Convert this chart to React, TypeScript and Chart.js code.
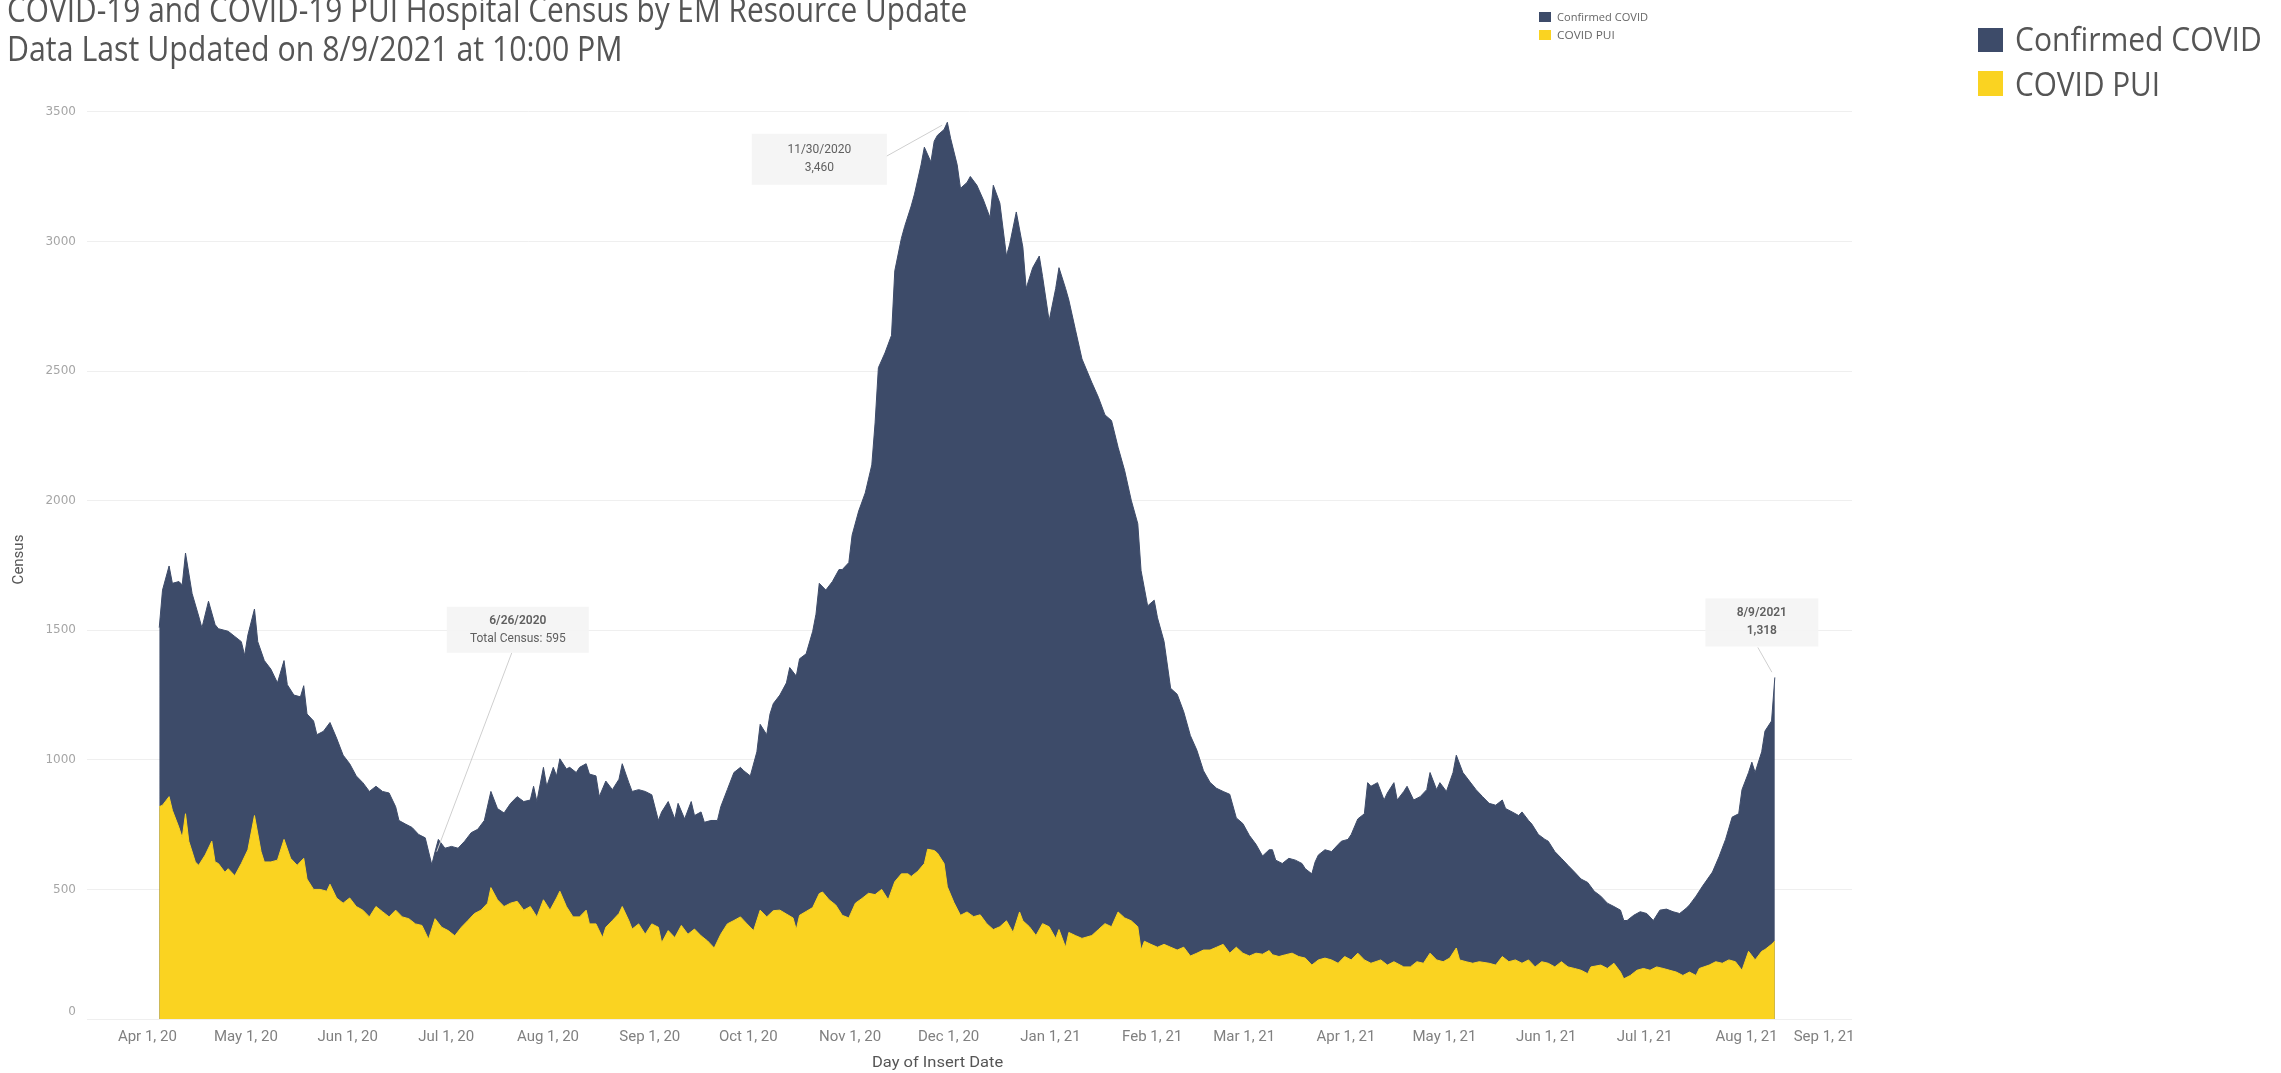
import React, { useEffect, useLayoutEffect, useRef, useState } from 'react';
import { Chart, registerables } from 'chart.js';

Chart.register(...registerables);

// ---- Data (day offsets counted from EPOCH) ----
const EPOCH = '2020-04-01';

const seriesNames = ['Confirmed COVID', 'COVID PUI'];

// Total census (Confirmed COVID + COVID PUI) = top edge of the navy band
const totalDays = [3, 4, 6, 7, 9, 10, 11, 13, 15, 16, 18, 20, 21, 24, 26, 28, 29, 30, 32, 33, 35, 37, 39, 41, 42, 44, 46, 47, 48, 50, 51, 53, 55, 57, 59, 61, 63, 65, 67, 69, 71, 73, 75, 76, 78, 80, 82, 84, 86, 87, 88, 90, 92, 94, 96, 98, 100, 102, 104, 106, 108, 110, 112, 114, 116, 117, 118, 120, 121, 123, 124, 125, 127, 128, 130, 131, 133, 134, 136, 137, 139, 141, 143, 144, 146, 147, 149, 151, 153, 155, 156, 158, 160, 161, 163, 165, 166, 168, 169, 171, 173, 174, 176, 178, 180, 181, 183, 185, 186, 188, 189, 190, 192, 194, 195, 197, 198, 200, 202, 203, 204, 206, 208, 210, 211, 213, 214, 216, 218, 220, 221, 222, 224, 226, 227, 229, 230, 232, 233, 235, 236, 238, 239, 240, 242, 243, 244, 246, 247, 249, 250, 252, 254, 256, 257, 259, 261, 262, 264, 266, 267, 269, 271, 272, 274, 276, 277, 279, 280, 282, 284, 287, 289, 291, 293, 295, 297, 299, 301, 302, 304, 306, 307, 309, 311, 313, 315, 317, 319, 321, 323, 325, 327, 329, 331, 333, 335, 337, 339, 341, 342, 343, 345, 347, 349, 351, 352, 354, 355, 356, 358, 360, 362, 363, 365, 366, 368, 370, 371, 372, 374, 376, 377, 379, 380, 382, 383, 385, 387, 389, 390, 392, 393, 395, 397, 398, 400, 402, 404, 406, 408, 410, 412, 413, 415, 417, 418, 420, 421, 423, 425, 426, 428, 430, 432, 434, 436, 438, 440, 442, 444, 446, 448, 449, 450, 452, 454, 456, 458, 460, 462, 464, 466, 468, 469, 471, 473, 476, 478, 480, 482, 484, 485, 487, 488, 489, 491, 492, 494, 495];
const totalCensus = [1510, 1655, 1748, 1681, 1688, 1675, 1798, 1642, 1555, 1509, 1612, 1522, 1506, 1496, 1476, 1456, 1403, 1482, 1582, 1456, 1383, 1350, 1297, 1383, 1290, 1250, 1243, 1286, 1177, 1150, 1097, 1110, 1144, 1084, 1018, 985, 938, 912, 878, 898, 878, 872, 819, 766, 752, 739, 712, 699, 595, 646, 693, 659, 666, 659, 686, 719, 732, 766, 878, 812, 795, 832, 858, 839, 845, 898, 839, 971, 898, 971, 938, 1004, 965, 971, 951, 971, 985, 945, 938, 858, 918, 885, 925, 985, 912, 878, 885, 878, 865, 766, 799, 839, 772, 832, 772, 839, 785, 799, 759, 766, 766, 819, 885, 951, 971, 958, 938, 1031, 1137, 1097, 1177, 1217, 1250, 1297, 1356, 1323, 1390, 1409, 1496, 1562, 1681, 1655, 1688, 1734, 1734, 1761, 1867, 1960, 2030, 2138, 2300, 2513, 2570, 2638, 2887, 3012, 3058, 3137, 3183, 3296, 3364, 3307, 3387, 3410, 3432, 3460, 3398, 3296, 3205, 3228, 3251, 3217, 3160, 3092, 3217, 3148, 2944, 2990, 3114, 2978, 2819, 2899, 2944, 2865, 2694, 2819, 2899, 2819, 2774, 2660, 2547, 2456, 2399, 2331, 2309, 2206, 2116, 2002, 1911, 1730, 1594, 1616, 1548, 1457, 1276, 1253, 1185, 1094, 1037, 958, 913, 890, 878, 867, 776, 754, 708, 674, 629, 653, 653, 613, 600, 620, 613, 600, 580, 560, 606, 633, 653, 646, 673, 686, 693, 712, 772, 792, 912, 898, 912, 845, 872, 912, 845, 878, 898, 845, 858, 885, 951, 885, 912, 878, 951, 1018, 951, 918, 885, 858, 832, 825, 845, 812, 799, 785, 799, 766, 752, 712, 693, 686, 646, 620, 593, 567, 540, 527, 493, 474, 447, 434, 420, 380, 380, 400, 414, 407, 380, 420, 424, 414, 407, 427, 440, 474, 513, 567, 626, 693, 779, 792, 885, 951, 991, 951, 1031, 1111, 1150, 1318];

// COVID PUI = top edge of the yellow band
const puiDays = [3, 4, 6, 7, 9, 10, 11, 12, 14, 15, 17, 19, 20, 21, 23, 24, 26, 28, 30, 32, 34, 35, 37, 39, 41, 43, 45, 47, 48, 50, 52, 54, 55, 57, 59, 61, 63, 65, 67, 69, 71, 73, 75, 77, 79, 81, 83, 85, 87, 89, 91, 93, 95, 97, 99, 101, 103, 104, 106, 108, 110, 112, 114, 116, 118, 120, 122, 124, 125, 127, 129, 131, 133, 134, 136, 138, 139, 141, 143, 144, 146, 147, 149, 151, 153, 155, 156, 158, 160, 162, 164, 166, 168, 170, 172, 174, 176, 178, 180, 182, 184, 186, 188, 190, 192, 194, 196, 197, 198, 200, 202, 204, 205, 207, 209, 211, 213, 215, 217, 219, 221, 223, 225, 227, 229, 231, 232, 234, 236, 237, 239, 240, 242, 243, 245, 247, 249, 251, 253, 255, 257, 259, 261, 263, 265, 266, 268, 270, 272, 274, 276, 277, 279, 280, 282, 284, 287, 289, 291, 293, 295, 297, 299, 301, 302, 303, 305, 307, 309, 311, 313, 315, 317, 319, 321, 323, 325, 327, 329, 331, 333, 335, 337, 339, 341, 342, 344, 346, 348, 350, 352, 354, 356, 358, 360, 362, 364, 366, 368, 370, 372, 375, 377, 379, 382, 384, 386, 388, 390, 392, 394, 396, 398, 399, 401, 403, 405, 408, 410, 412, 414, 416, 418, 420, 422, 424, 426, 428, 430, 432, 434, 436, 438, 439, 442, 444, 446, 448, 449, 451, 453, 455, 457, 459, 461, 463, 465, 467, 469, 471, 472, 475, 477, 479, 481, 483, 485, 487, 489, 491, 492, 494, 495];
const covidPui = [819, 825, 858, 805, 739, 699, 792, 686, 606, 593, 633, 686, 606, 600, 566, 580, 553, 600, 653, 785, 646, 606, 606, 613, 693, 620, 593, 620, 540, 500, 500, 493, 520, 467, 447, 467, 434, 420, 394, 434, 414, 394, 420, 394, 387, 367, 361, 308, 387, 354, 341, 321, 354, 380, 407, 420, 447, 507, 460, 434, 447, 454, 420, 434, 394, 460, 420, 467, 493, 434, 394, 394, 420, 367, 367, 314, 354, 380, 407, 434, 380, 347, 367, 327, 367, 354, 294, 341, 314, 361, 327, 347, 321, 301, 274, 327, 367, 380, 394, 367, 341, 420, 394, 418, 420, 405, 390, 345, 400, 415, 430, 484, 490, 460, 440, 400, 390, 447, 465, 485, 480, 500, 460, 530, 560, 560, 550, 570, 600, 655, 650, 640, 600, 510, 450, 400, 413, 395, 402, 368, 345, 356, 379, 334, 413, 379, 356, 322, 368, 356, 311, 345, 277, 334, 322, 311, 322, 345, 368, 356, 413, 390, 379, 356, 266, 300, 288, 277, 288, 277, 266, 277, 243, 254, 266, 266, 277, 288, 254, 277, 254, 243, 254, 250, 264, 248, 241, 248, 254, 241, 235, 208, 228, 235, 228, 215, 241, 228, 254, 228, 215, 228, 208, 221, 201, 201, 221, 215, 254, 228, 221, 235, 274, 228, 221, 215, 221, 215, 208, 241, 221, 228, 215, 228, 201, 221, 215, 201, 221, 201, 195, 188, 175, 201, 208, 195, 215, 181, 155, 168, 188, 195, 188, 201, 195, 188, 181, 168, 181, 168, 195, 208, 221, 215, 228, 221, 188, 261, 228, 261, 268, 288, 301];

const xTickDates = ['2020-04-01', '2020-05-01', '2020-06-01', '2020-07-01', '2020-08-01', '2020-09-01', '2020-10-01', '2020-11-01', '2020-12-01', '2021-01-01', '2021-02-01', '2021-03-01', '2021-04-01', '2021-05-01', '2021-06-01', '2021-07-01', '2021-08-01', '2021-09-01'];
const xTickLabels = ['Apr 1, 20', 'May 1, 20', 'Jun 1, 20', 'Jul 1, 20', 'Aug 1, 20', 'Sep 1, 20', 'Oct 1, 20', 'Nov 1, 20', 'Dec 1, 20', 'Jan 1, 21', 'Feb 1, 21', 'Mar 1, 21', 'Apr 1, 21', 'May 1, 21', 'Jun 1, 21', 'Jul 1, 21', 'Aug 1, 21', 'Sep 1, 21'];
const yTickValues = [0, 500, 1000, 1500, 2000, 2500, 3000, 3500];

const annotationDates = ['2020-11-30', '2020-06-26', '2021-08-09'];
const annotationLines = [
  ['11/30/2020', '3,460'],
  ['6/26/2020', 'Total Census: 595'],
  ['8/9/2021', '1,318'],
];

// ---- Styles / layout ----
const NAVY = '#3d4b69';
const YELLOW = '#fad321';
const W = 2281;
const H = 1073;

// box placement relative to the annotated point (px): center offset, size, leader start (rel. to box center), gap at point
const annotationLayout = [
  { dx: -128, dy: 37, w: 135, h: 51, lx: 67, ly: -3, gap: 6, bold: [false, false] },
  { dx: 86, dy: -235, w: 142, h: 46, lx: -6, ly: 23, gap: 14, bold: [true, false] },
  { dx: -13, dy: -55, w: 113, h: 48, lx: -4, ly: 25, gap: 6, bold: [true, true] },
];

const dayOf = (iso: string) => (Date.parse(iso) - Date.parse(EPOCH)) / 86400000;

function FitText(props: {
  text: string; left: number; baseline: number; fontSize: number; width: number;
  color: string; family: string; ascentRatio: number; weight?: number;
}) {
  const { text, left, baseline, fontSize, width, color, family, ascentRatio, weight } = props;
  const ref = useRef<HTMLSpanElement>(null);
  const [scale, setScale] = useState(1);
  useLayoutEffect(() => {
    if (ref.current) {
      const w = ref.current.offsetWidth;
      if (w > 0) setScale(width / w);
    }
  }, [text, fontSize, width, family]);
  return (
    <span
      ref={ref}
      style={{
        position: 'absolute',
        left,
        top: baseline - ascentRatio * fontSize,
        fontSize,
        lineHeight: 1,
        fontFamily: family,
        fontWeight: weight ?? 400,
        color,
        whiteSpace: 'nowrap',
        transform: `scaleX(${scale})`,
        transformOrigin: 'left top',
      }}
    >
      {text}
    </span>
  );
}

const OPEN = "'Open Sans', 'Noto Sans', sans-serif";
const OPEN_ASC = 0.888;
const ROBOTO = "Roboto, 'Noto Sans', sans-serif";
const ROBOTO_ASC = 0.842;

export default function App() {
  const canvasRef = useRef<HTMLCanvasElement>(null);

  useEffect(() => {
    document.body.style.margin = '0';
    document.body.style.overflow = 'hidden';
    const canvas = canvasRef.current;
    if (!canvas) return;

    const annPlugin = {
      id: 'calloutBoxes',
      afterDatasetsDraw(chart: any) {
        const ctx = chart.ctx;
        const xs = chart.scales.x;
        const ys = chart.scales.y;
        annotationDates.forEach((d, i) => {
          const day = dayOf(d);
          const idx = totalDays.indexOf(day);
          if (idx < 0) return;
          const px = xs.getPixelForValue(day);
          const py = ys.getPixelForValue(totalCensus[idx]);
          const L = annotationLayout[i];
          const cx = px + L.dx;
          const cy = py + L.dy;
          ctx.save();
          const sx = cx + L.lx;
          const sy = cy + L.ly;
          const vx = px - sx;
          const vy = py - sy;
          const len = Math.hypot(vx, vy);
          const ex = px - (vx / len) * L.gap;
          const ey = py - (vy / len) * L.gap;
          ctx.strokeStyle = '#cfcfcf';
          ctx.lineWidth = 1;
          ctx.beginPath();
          ctx.moveTo(sx, sy);
          ctx.lineTo(ex, ey);
          ctx.stroke();
          ctx.fillStyle = 'rgba(244,244,244,0.92)';
          ctx.fillRect(cx - L.w / 2, cy - L.h / 2, L.w, L.h);
          ctx.textAlign = 'center';
          ctx.textBaseline = 'middle';
          const lines = annotationLines[i];
          lines.forEach((t, k) => {
            ctx.font = `${L.bold[k] ? '600 ' : ''}12px Roboto, 'Noto Sans', sans-serif`;
            ctx.fillStyle = '#5f5f5f';
            ctx.fillText(t, cx, cy + (k - (lines.length - 1) / 2) * 18);
          });
          ctx.restore();
        });
      },
    };

    const chart = new Chart(canvas, {
      type: 'line',
      data: {
        datasets: [
          {
            label: seriesNames[1],
            data: puiDays.map((d, i) => ({ x: d, y: covidPui[i] })),
            backgroundColor: YELLOW,
            borderColor: YELLOW,
            borderWidth: 1,
            fill: 'origin',
            pointRadius: 0,
            tension: 0,
          },
          {
            label: seriesNames[0],
            data: totalDays.map((d, i) => ({ x: d, y: totalCensus[i] })),
            backgroundColor: NAVY,
            borderColor: NAVY,
            borderWidth: 1,
            fill: 'origin',
            pointRadius: 0,
            tension: 0,
          },
        ],
      },
      options: {
        responsive: false,
        animation: false,
        devicePixelRatio: 1,
        layout: { padding: { top: 100, right: 429, bottom: 0, left: 0 } },
        plugins: {
          legend: { display: false },
          tooltip: { enabled: false },
        },
        scales: {
          x: {
            type: 'linear',
            min: -19,
            max: 518.5,
            grid: { display: false, drawTicks: false },
            border: { display: false },
            afterBuildTicks: (scale: any) => {
              scale.ticks = xTickDates.map((d) => ({ value: dayOf(d) }));
            },
            afterFit: (scale: any) => {
              scale.height = 54;
            },
            ticks: {
              autoSkip: false,
              maxRotation: 0,
              minRotation: 0,
              padding: 9,
              labelOffset: -2,
              color: '#808080',
              font: { family: 'Roboto', size: 15 },
              callback: (_v: any, index: number) => {
                const label = xTickLabels[index];
                return index === xTickLabels.length - 1 ? label + ' '.repeat(13) : label;
              },
            },
          },
          y: {
            type: 'linear',
            min: 0,
            max: 3546,
            grid: { color: '#efefef', lineWidth: 1, drawTicks: false },
            border: { display: false },
            afterBuildTicks: (scale: any) => {
              scale.ticks = yTickValues.map((v) => ({ value: v }));
            },
            afterFit: (scale: any) => {
              scale.width = 87;
            },
            ticks: {
              padding: 11,
              color: '#a6a6a6',
              font: { family: 'DejaVu Sans', size: 12 },
              // the bottom label sits just above the baseline, as in the original
              callback: (v: any) => (v === 0 ? ['0', ''] : String(v)),
            },
            title: {
              display: true,
              text: 'Census',
              color: '#555555',
              font: { family: 'Roboto', size: 15 },
              padding: { top: 10, bottom: 0 },
            },
          },
        },
      },
      plugins: [annPlugin],
    } as any);

    return () => chart.destroy();
  }, []);

  const square = (left: number, top: number, size: number, h: number, color: string) => (
    <div style={{ position: 'absolute', left, top, width: size, height: h, background: color }} />
  );

  return (
    <div style={{ position: 'relative', width: W, height: H, overflow: 'hidden', background: '#ffffff' }}>
      <canvas ref={canvasRef} width={W} height={H} style={{ position: 'absolute', left: 0, top: 0, display: 'block' }} />

      <FitText text="COVID-19 and COVID-19 PUI Hospital Census by EM Resource Update" left={7} baseline={22} fontSize={35} width={960} color="#555555" family={OPEN} ascentRatio={OPEN_ASC} />
      <FitText text="Data Last Updated on 8/9/2021 at 10:00 PM" left={7} baseline={61} fontSize={35} width={616} color="#555555" family={OPEN} ascentRatio={OPEN_ASC} />

      {square(1539, 12, 12, 10, NAVY)}
      <FitText text={seriesNames[0]} left={1557} baseline={21} fontSize={10} width={91} color="#666666" family={OPEN} ascentRatio={OPEN_ASC} />
      {square(1539, 30, 12, 10, YELLOW)}
      <FitText text={seriesNames[1]} left={1557} baseline={39} fontSize={10} width={58} color="#666666" family={OPEN} ascentRatio={OPEN_ASC} />

      {square(1978, 28, 25, 24, NAVY)}
      <FitText text={seriesNames[0]} left={2015} baseline={51} fontSize={32} width={247} color="#555555" family={OPEN} ascentRatio={OPEN_ASC} />
      {square(1978, 71, 25, 25, YELLOW)}
      <FitText text={seriesNames[1]} left={2015} baseline={96} fontSize={32} width={145} color="#555555" family={OPEN} ascentRatio={OPEN_ASC} />

      <FitText text="Day of Insert Date" left={872} baseline={1068} fontSize={15} width={131} color="#555555" family={ROBOTO} ascentRatio={ROBOTO_ASC} />
    </div>
  );
}
